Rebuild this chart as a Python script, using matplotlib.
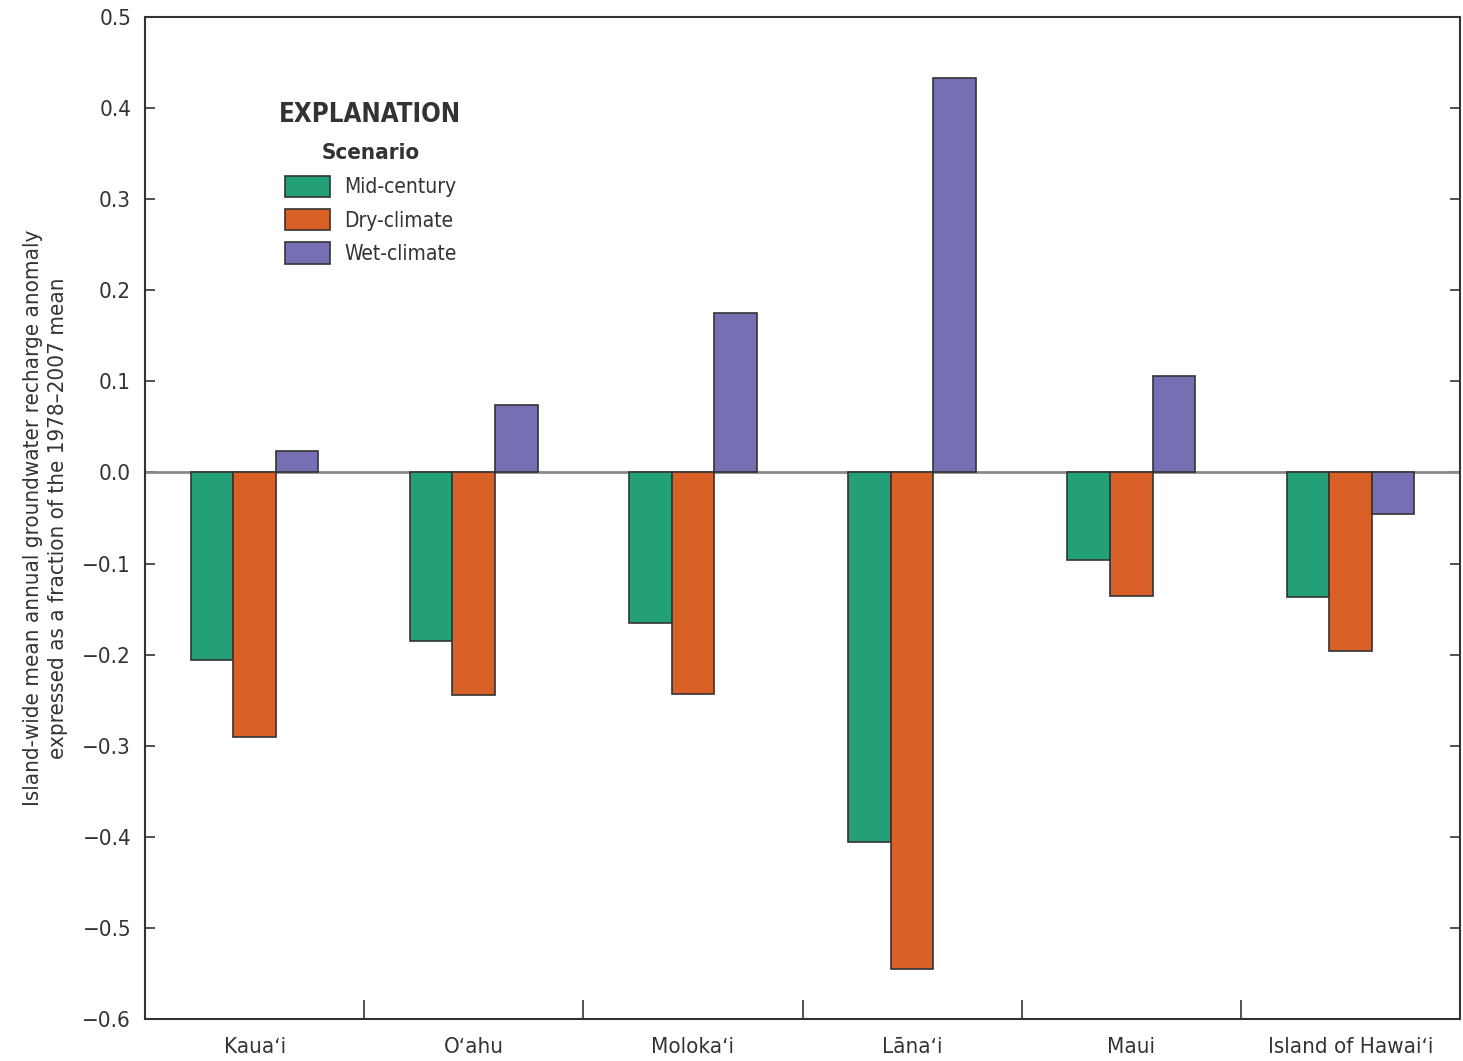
import matplotlib
matplotlib.use("Agg")
import matplotlib.pyplot as plt
import numpy as np

plt.rcParams['font.family'] = ['DejaVu Sans']
plt.rcParams['font.stretch'] = 'condensed'

islands = ["Kauaʻi", "Oʻahu", "Molokaʻi", "Lānaʻi", "Maui", "Island of Hawaiʻi"]
scenarios = ["Mid-century", "Dry-climate", "Wet-climate"]
mid_century = [-0.206, -0.185, -0.165, -0.406, -0.096, -0.137]
dry_climate = [-0.290, -0.244, -0.243, -0.545, -0.136, -0.196]
wet_climate = [0.024, 0.074, 0.175, 0.433, 0.106, -0.046]
colors = ["#23a077", "#d96128", "#7570b3"]
yticks = [-0.6, -0.5, -0.4, -0.3, -0.2, -0.1, 0.0, 0.1, 0.2, 0.3, 0.4, 0.5]

ink = "#333333"
fig = plt.figure(figsize=(14.63, 10.61), dpi=100)
ax = fig.add_axes([145 / 1463, 42 / 1061, 1315 / 1463, 1002 / 1061])

x = np.arange(len(islands))
width = 0.194
bars = []
for i, (vals, c) in enumerate(zip([mid_century, dry_climate, wet_climate], colors)):
    b = ax.bar(x + (i - 1) * width, vals, width, color=c, edgecolor=ink,
               linewidth=1.2, zorder=3, label=scenarios[i])
    bars.append(b)

ax.axhline(0, color="#8a8a8a", linewidth=2, zorder=2)

ax.set_xlim(-0.5, 5.5)
ax.set_ylim(-0.6, 0.5)
ax.set_yticks(yticks)
ax.set_yticklabels(["−%.1f" % abs(v) if v < 0 else "%.1f" % abs(v) for v in yticks])
ax.tick_params(axis="y", direction="in", length=7, width=1.2, color=ink,
               right=True, labelsize=16, labelcolor=ink, pad=10)

# island boundaries as major ticks, names as minor ticks
ax.set_xticks(np.arange(0.5, 5.0, 1.0))
ax.set_xticklabels([])
ax.set_xticks(x, minor=True)
ax.set_xticklabels(islands, minor=True)
ax.tick_params(axis="x", which="major", direction="in", length=14, width=1.2, color=ink)
ax.tick_params(axis="x", which="minor", length=0, labelsize=16, labelcolor=ink, pad=13)

for s in ax.spines.values():
    s.set_color(ink)
    s.set_linewidth(1.5)

ax.set_ylabel("Island-wide mean annual groundwater recharge anomaly\n"
              "expressed as a fraction of the 1978–2007 mean",
              fontsize=16, color=ink, labelpad=10, linespacing=1.35)

fig.text(370 / 1463, 1 - 115 / 1061, "EXPLANATION", ha="center", va="center",
         fontsize=18.5, fontweight="bold", color=ink)
leg = ax.legend(handles=bars, title="Scenario", loc="upper left",
                bbox_to_anchor=(285 / 1463, 1 - 143 / 1061),
                bbox_transform=fig.transFigure, frameon=False,
                fontsize=15, title_fontproperties={"weight": "bold", "size": 16},
                handlelength=2.15, handleheight=1.2, handletextpad=0.7,
                labelspacing=0.56, borderpad=0, borderaxespad=0)
leg._legend_box.sep = 9
for t in leg.get_texts():
    t.set_color(ink)
leg.get_title().set_color(ink)

fig.savefig("out.png", dpi=100)
